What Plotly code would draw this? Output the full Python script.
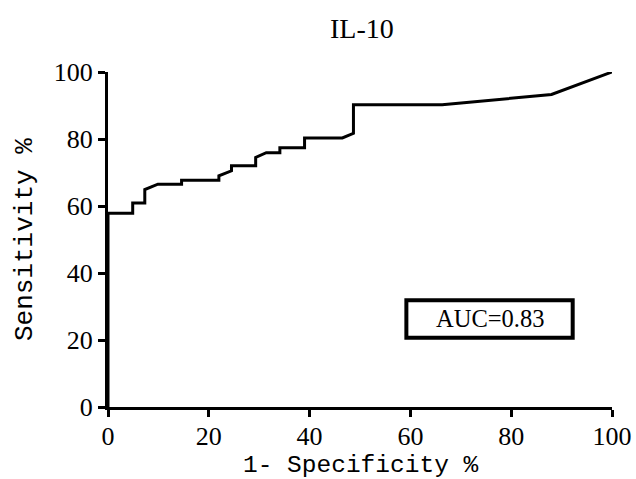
import plotly.graph_objects as go

# ROC curve points (1 - specificity %, sensitivity %)
fpr = [0, 0, 4.9, 4.9, 7.3, 7.3, 9.9, 14.6, 14.6, 22.0, 22.0, 24.5, 24.5, 29.3, 29.3, 31.4, 34.1, 34.1, 39.0, 39.0, 46.5, 48.7, 48.7, 66.3, 88.0, 100]
tpr = [0, 57.8, 57.8, 60.9, 60.9, 64.9, 66.5, 66.5, 67.7, 67.7, 69.0, 70.5, 72.0, 72.0, 74.5, 75.9, 75.9, 77.4, 77.4, 80.3, 80.3, 81.7, 90.2, 90.2, 93.3, 100]
tick_vals = [0, 20, 40, 60, 80, 100]
title_text = "IL-10"
x_title = "1- Specificity %"
y_title = "Sensitivity %"
auc_text = "AUC=0.83"
auc_box_x = [59.2, 92.2]
auc_box_y = [20.7, 31.9]

serif = "Liberation Serif"
mono = "Liberation Mono"

W, H = 636, 479
ml, mr, mt, mb = 108, 24, 72, 72
pw, ph = W - ml - mr, H - mt - mb


def px_to_paper(px, py):
    return (px - ml) / pw, (H - mb - py) / ph


fig = go.Figure()
fig.add_trace(go.Scatter(x=fpr, y=tpr, mode="lines",
                         line=dict(color="black", width=3), showlegend=False,
                         hoverinfo="skip", cliponaxis=False))

fig.add_shape(type="rect", xref="x", yref="y",
              x0=auc_box_x[0], x1=auc_box_x[1], y0=auc_box_y[0], y1=auc_box_y[1],
              line=dict(color="black", width=4), fillcolor="white", layer="above")
fig.add_annotation(x=sum(auc_box_x) / 2, y=sum(auc_box_y) / 2, xref="x", yref="y",
                   text=auc_text, showarrow=False,
                   font=dict(family=serif, size=24.5, color="black"))

tx, ty = px_to_paper(362, 29)
fig.add_annotation(x=tx, y=ty, xref="paper", yref="paper", text=title_text,
                   showarrow=False, xanchor="center", yanchor="middle",
                   font=dict(family=serif, size=28, color="black"))
xx, xy = px_to_paper(361, 465)
fig.add_annotation(x=xx, y=xy, xref="paper", yref="paper", text=x_title,
                   showarrow=False, xanchor="center", yanchor="middle",
                   font=dict(family=mono, size=24.5, color="black"))
yx, yy = px_to_paper(25, 240)
fig.add_annotation(x=yx, y=yy, xref="paper", yref="paper", text=y_title,
                   showarrow=False, xanchor="center", yanchor="middle", textangle=-90,
                   font=dict(family=mono, size=26, color="black"))

axis_common = dict(
    showgrid=False, zeroline=False, showline=True, linecolor="black", linewidth=3,
    ticks="outside", ticklen=7, tickwidth=3, tickcolor="black",
    tickvals=tick_vals, tickfont=dict(family=serif, size=26, color="black"),
    range=[0, 100], fixedrange=True, automargin=False,
)

fig.update_layout(
    width=W, height=H,
    margin=dict(l=ml, r=mr, t=mt, b=mb, autoexpand=False),
    paper_bgcolor="white", plot_bgcolor="white",
    xaxis=dict(**axis_common, ticklabelstandoff=-3),
    yaxis=dict(**axis_common),
)

fig.write_html("out.html", config={"displayModeBar": False},
               post_script="document.body.style.margin='0';document.body.style.overflow='hidden';")
